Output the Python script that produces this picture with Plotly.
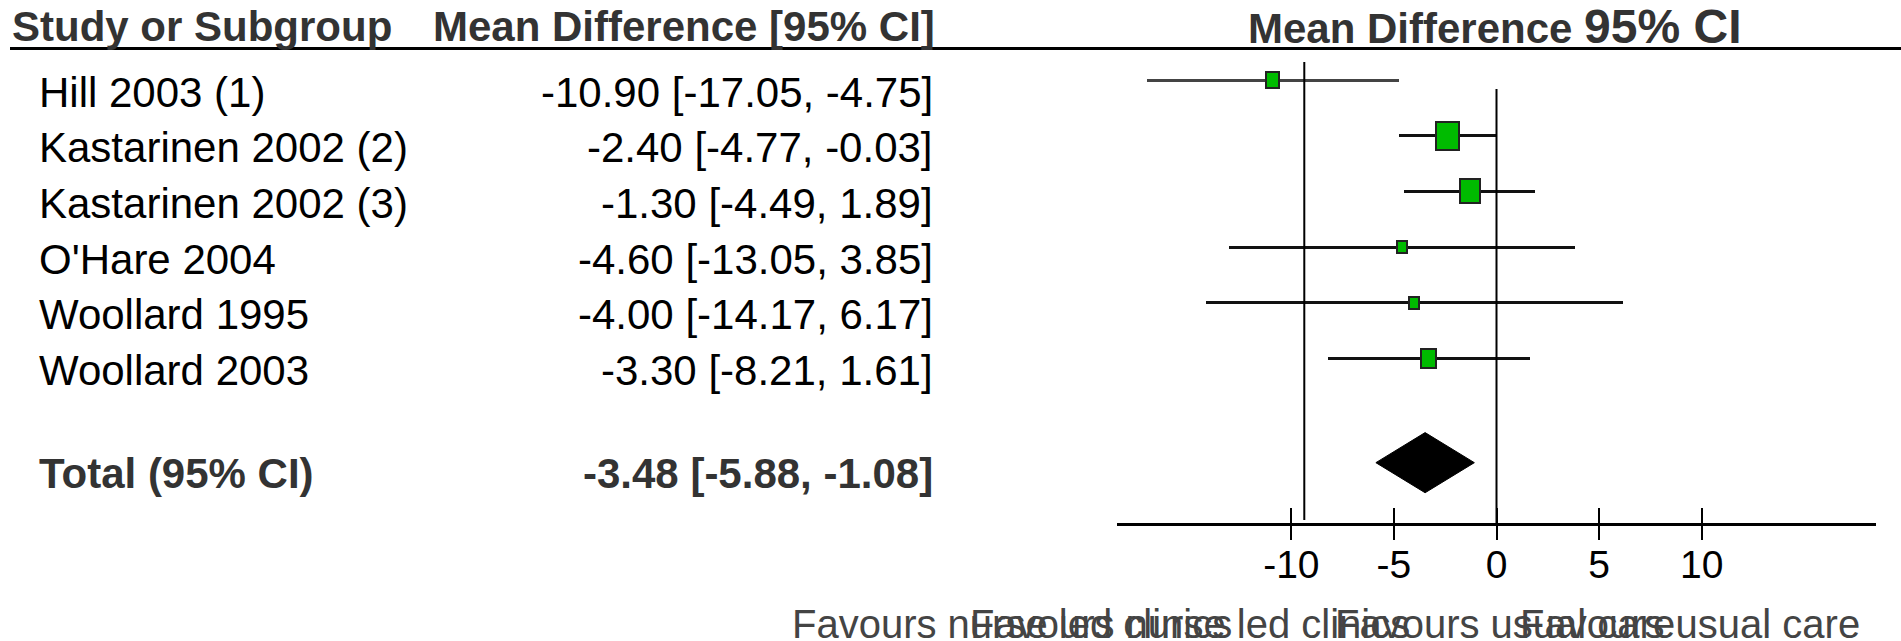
import numpy as np
import plotly.graph_objects as go

# ---- data -------------------------------------------------------------
studies = ["Hill 2003 (1)", "Kastarinen 2002 (2)", "Kastarinen 2002 (3)",
           "O'Hare 2004", "Woollard 1995", "Woollard 2003"]
mean_diff = [-10.90, -2.40, -1.30, -4.60, -4.00, -3.30]
ci_low = [-17.05, -4.77, -4.49, -13.05, -14.17, -8.21]
ci_high = [-4.75, -0.03, 1.89, 3.85, 6.17, 1.61]
weights = [10.8, 34.6, 26.1, 7.2, 6.5, 14.7]          # study weight, %

total_label = "Total (95% CI)"
total_mean = -3.48
total_low = -5.88
total_high = -1.08

tick_values = [-10, -5, 0, 5, 10]
tick_labels = ["-10", "-5", "0", "5", "10"]
favours_left = "Favours nurse led clinics"
favours_right = "Favours usual care"
ref_line_x = -9.37

# ---- layout constants (pixels) ---------------------------------------
W, H = 1901, 641
FONT = "Liberation Sans, Arial, Helvetica, sans-serif"
ROW0_PX, ROW_PX = 80.0, 55.7          # first study row, row pitch
X_LEFT_PX, X_RIGHT_PX = 1117, 1876    # forest panel extent
X_RANGE = [-18.5, 18.5]
AXIS_PX = 524
TOTAL_ROW = 6.87
PX_PER_UNIT = (X_RIGHT_PX - X_LEFT_PX) / (X_RANGE[1] - X_RANGE[0])


def py(p):
    """pixel row -> paper y"""
    return 1 - p / H


def px(p):
    return p / W


def row_of(p):
    return (p - ROW0_PX) / ROW_PX


rows = list(range(len(studies)))
fig = go.Figure()

# confidence interval lines (thin horizontal bars)
ci_thick = 3 / ROW_PX
ci_colors = ["#444444"] + ["#111111"] * (len(studies) - 1)
fig.add_trace(go.Bar(
    orientation="h", y=rows,
    base=ci_low, x=np.array(ci_high) - np.array(ci_low),
    width=ci_thick, marker=dict(color=ci_colors, line=dict(width=0)),
    hoverinfo="skip", showlegend=False))

# weight boxes: side proportional to sqrt(weight)
sq = np.sqrt(np.array(weights))
box_w = 3.9 * sq / PX_PER_UNIT
box_h = 4.7 * sq / ROW_PX
fig.add_trace(go.Bar(
    orientation="h", y=rows,
    base=np.array(mean_diff) - box_w / 2, x=box_w,
    width=box_h,
    marker=dict(color="#00bb00", line=dict(color="#222222", width=2)),
    hoverinfo="skip", showlegend=False))

# pooled estimate diamond
dh = 0.54
fig.add_trace(go.Scatter(
    x=[total_low, total_mean, total_high, total_mean, total_low],
    y=[TOTAL_ROW, TOTAL_ROW - dh, TOTAL_ROW, TOTAL_ROW + dh, TOTAL_ROW],
    mode="lines", fill="toself", fillcolor="black",
    line=dict(color="black", width=1),
    hoverinfo="skip", showlegend=False))

# vertical reference lines
fig.add_shape(type="line", xref="x", yref="y", x0=0, x1=0,
              y0=row_of(89), y1=row_of(AXIS_PX), line=dict(color="black", width=2))
fig.add_shape(type="line", xref="x", yref="y", x0=ref_line_x, x1=ref_line_x,
              y0=row_of(62), y1=row_of(520), line=dict(color="black", width=2))

# header underline
fig.add_shape(type="line", xref="paper", yref="paper", x0=px(10), x1=1,
              y0=py(48.5), y1=py(48.5), line=dict(color="black", width=3))

annotations = []
# headers
annotations.append(dict(text="<b>Study or Subgroup</b>", x=px(10), xanchor="left",
                        y=py(27), yanchor="middle", font=dict(size=42, color="#333333")))
annotations.append(dict(text="<b>Mean Difference [95% CI]</b>", x=px(937), xanchor="right",
                        y=py(27), yanchor="middle", font=dict(size=42, color="#333333")))
annotations.append(dict(text="<b>Mean Difference <span style='font-size:48px'>95% CI</span></b>",
                        x=px(1495), xanchor="center",
                        y=py(27), yanchor="middle", font=dict(size=42, color="#333333")))

# study rows
for r, name, m, lo, hi in zip(rows, studies, mean_diff, ci_low, ci_high):
    annotations.append(dict(text=name, x=px(37), xanchor="left", xref="paper",
                            y=r, yref="y", yanchor="middle", yshift=-12,
                            font=dict(size=42, color="black")))
    annotations.append(dict(text=f"{m:.2f} [{lo:.2f}, {hi:.2f}]", x=px(935), xanchor="right",
                            xref="paper", y=r, yref="y", yanchor="middle", yshift=-12,
                            font=dict(size=42, color="black")))

annotations.append(dict(text=f"<b>{total_label}</b>", x=px(37), xanchor="left", xref="paper",
                        y=TOTAL_ROW, yref="y", yanchor="middle", yshift=-11,
                        font=dict(size=42, color="#333333")))
annotations.append(dict(text=f"<b>{total_mean:.2f} [{total_low:.2f}, {total_high:.2f}]</b>",
                        x=px(935), xanchor="right", xref="paper",
                        y=TOTAL_ROW, yref="y", yanchor="middle", yshift=-11,
                        font=dict(size=42, color="#333333")))

# favours labels (drawn twice, offset)
for left_px, right_px in [(790, 1333), (968, 1518)]:
    annotations.append(dict(text=favours_left, x=px(left_px), xanchor="left",
                            y=py(624), yanchor="middle", font=dict(size=40, color="#444444")))
    annotations.append(dict(text=favours_right, x=px(right_px), xanchor="left",
                            y=py(624), yanchor="middle", font=dict(size=40, color="#444444")))

for a in annotations:
    a.setdefault("xref", "paper")
    a.setdefault("yref", "paper")
    a["showarrow"] = False
    a["font"]["family"] = FONT

axis_common = dict(
    range=X_RANGE, domain=[px(X_LEFT_PX), px(X_RIGHT_PX)],
    anchor="free", position=py(AXIS_PX),
    showgrid=False, zeroline=False, tickvals=tick_values,
    tickcolor="black", tickwidth=2, ticklen=15,
)

fig.update_layout(
    width=W, height=H,
    margin=dict(l=0, r=0, t=0, b=0),
    paper_bgcolor="white", plot_bgcolor="white",
    barmode="overlay", bargap=0,
    showlegend=False,
    font=dict(family=FONT, color="black"),
    annotations=annotations,
    # labelled axis carries the upward tick halves
    xaxis=dict(**axis_common, ticks="inside", ticktext=tick_labels,
               showline=True, linecolor="black", linewidth=3,
               tickfont=dict(size=39, color="black", family=FONT), ticklabelstandoff=5),
    # overlay axis carries the downward tick halves
    xaxis2=dict(**axis_common, ticks="outside", overlaying="x", showline=False,
                showticklabels=False),
    yaxis=dict(range=[row_of(H), row_of(0)], domain=[0, 1], visible=False,
               showgrid=False, zeroline=False),
)

fig.add_trace(go.Scatter(x=[None], y=[None], xaxis="x2", yaxis="y",
                         hoverinfo="skip", showlegend=False))

fig.write_html("out.html")
